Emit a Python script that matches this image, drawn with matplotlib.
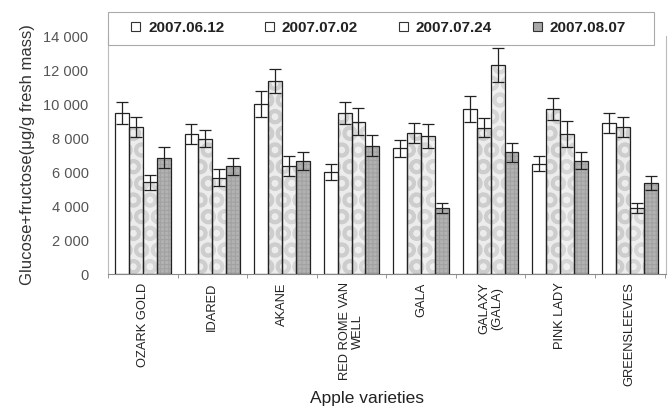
import matplotlib
matplotlib.use("Agg")
import matplotlib.pyplot as plt
import numpy as np
from matplotlib.patches import Patch, Rectangle
from matplotlib.ticker import FuncFormatter, FixedLocator

varieties = ["OZARK GOLD", "IDARED", "AKANE", "RED ROME VAN\nWELL", "GALA",
             "GALAXY\n(GALA)", "PINK LADY", "GREENSLEEVES"]
dates = ["2007.06.12", "2007.07.02", "2007.07.24", "2007.08.07"]

d0612 = [9450, 8250, 10000, 6000, 7400, 9700, 6500, 8900]
d0702 = [8650, 7950, 11350, 9450, 8300, 8600, 9700, 8650]
d0724 = [5400, 5650, 6350, 8950, 8100, 12300, 8250, 3900]
d0807 = [6850, 6350, 6650, 7550, 3900, 7150, 6650, 5350]

e0612 = [650, 600, 750, 450, 500, 750, 450, 600]
e0702 = [600, 500, 700, 650, 600, 550, 650, 600]
e0724 = [450, 500, 600, 800, 700, 1000, 750, 300]
e0807 = [600, 500, 550, 600, 300, 550, 500, 400]

series = [d0612, d0702, d0724, d0807]
errors = [e0612, e0702, e0724, e0807]

faces = ["white", "#ececec", "#f0f0f0", "#b2b2b2"]
hatch_cols = [None, "#cdcdcd", "#d6d6d6", "#a2a2a2"]
hatches = [None, "O", "O", "++++"]

plt.rcParams["font.family"] = ["Liberation Sans", "DejaVu Sans"]

fig = plt.figure(figsize=(6.72, 4.12), dpi=100)
ax = fig.add_axes([108 / 672, 138 / 412, 558 / 672, 238 / 412])

x = np.arange(len(varieties))
w = 0.2
offsets = [-1.5 * w, -0.5 * w, 0.5 * w, 1.5 * w]

for vals, errs, fc, hc, h, off in zip(series, errors, faces, hatch_cols, hatches, offsets):
    if h is not None:
        plt.rcParams["hatch.linewidth"] = 2.6 if h == "O" else 0.8
        ax.bar(x + off, vals, w, color=fc, edgecolor=hc, hatch=h, linewidth=0, zorder=2)
    else:
        ax.bar(x + off, vals, w, color=fc, linewidth=0, zorder=2)
    ax.bar(x + off, vals, w, fill=False, edgecolor="#222222", linewidth=0.9, zorder=3)
    ax.errorbar(x + off, vals, yerr=errs, fmt="none", ecolor="#222222",
                elinewidth=0.9, capsize=4, capthick=0.9, zorder=4)

ax.set_xlim(-0.49, 7.52)
ax.set_ylim(0, 14000)
ax.yaxis.set_major_locator(FixedLocator(np.arange(0, 14001, 2000)))
ax.yaxis.set_major_formatter(FuncFormatter(lambda v, p: f"{int(v):,}".replace(",", " ")))

ax.set_xticks(x)
ax.set_xticklabels(varieties, rotation=90, fontsize=9.3, color="#222222", linespacing=1.15)
ax.set_xticks(np.arange(-0.5, 8, 1.0), minor=True)
ax.tick_params(axis="x", which="major", length=0, pad=6)
ax.tick_params(axis="x", which="minor", length=3, color="#888888")
ax.tick_params(axis="y", length=0, labelsize=10.5, labelcolor="#555555", pad=14)

ax.spines["top"].set_visible(False)
ax.spines["left"].set_color("#bbbbbb")
ax.spines["right"].set_color("#bbbbbb")
ax.spines["bottom"].set_color("#888888")
ax.spines["left"].set_linewidth(0.8)
ax.spines["right"].set_linewidth(0.8)

ax.set_ylabel("Glucose+fructose(\u03bcg/g fresh mass)", fontsize=12, color="#333333", labelpad=6)
fig.text(367 / 672, 1 - 399 / 412, "Apple varieties", fontsize=12.5, color="#222222",
         ha="center", va="center")

# legend: entries without their own frame, box drawn separately
handles = []
for h in hatches:
    if h is not None and h.startswith("+"):
        handles.append(Patch(facecolor="#a8a8a8", edgecolor="#333333", linewidth=0.8))
    else:
        handles.append(Patch(facecolor="white", edgecolor="#333333", linewidth=0.8))

leg = fig.legend(handles, dates, ncol=4, loc="center left",
                 bbox_to_anchor=(131 / 672, 1 - 28 / 412),
                 frameon=False, fontsize=11, borderpad=0, borderaxespad=0,
                 handlelength=0.62, handleheight=0.5, handletextpad=0.5,
                 columnspacing=2.65)
for t in leg.get_texts():
    t.set_color("#222222")
    t.set_fontweight("bold")
fig.patches.append(Rectangle((108 / 672, 1 - 45 / 412), 546 / 672, 33 / 412,
                             transform=fig.transFigure, fill=False,
                             edgecolor="#aaaaaa", linewidth=0.8))

fig.savefig("out.png", dpi=100)
